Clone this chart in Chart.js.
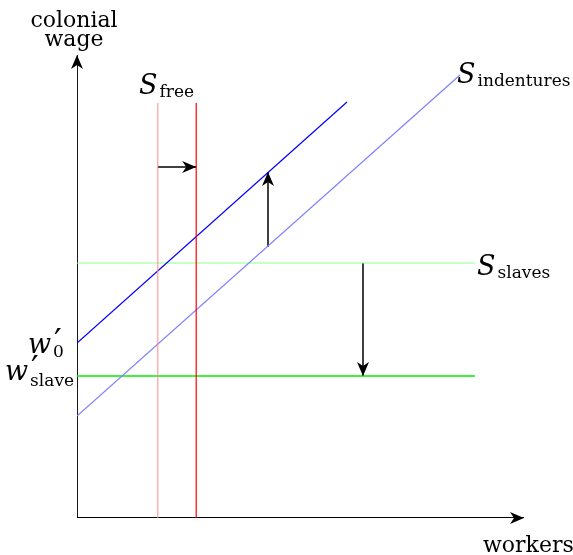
<!DOCTYPE html>
<html>
<head>
<meta charset="utf-8">
<script src="https://cdn.jsdelivr.net/npm/chart.js@4/dist/chart.umd.min.js"></script>
<style>
  body { margin: 0; background: #fff; }
  canvas { display: block; }
</style>
</head>
<body>
<canvas id="myChart" width="573" height="555"></canvas>
<script>
// data (one unit ~ 40px of the original drawing)
const xAxis = [[0, 0], [11.175, 0]];
const yAxis = [[0, 0], [0, 11.575]];
const sFree = [[2.02, 0], [2.02, 10.375]];
const sFreeShifted = [[2.98, 0], [2.98, 10.375]];
const sIndentures = [[0, 2.55], [9.575, 11.075]];
const sIndenturesShifted = [[0, 4.375], [6.75, 10.4]];
const sSlaves = [[0, 6.375], [9.95, 6.375]];
const sSlavesShifted = [[0, 3.55], [9.95, 3.55]];
const shiftRight = [[2.02, 8.775], [2.98, 8.775]];
const shiftUp = [[4.775, 6.775], [4.775, 8.65]];
const shiftDown = [[7.15, 6.375], [7.15, 3.55]];

const toPts = (arr) => arr.map(([x, y]) => ({ x, y }));

function line(points, color, width, arrow) {
  return {
    data: toPts(points),
    borderColor: color,
    borderWidth: width,
    showLine: true,
    pointRadius: 0,
    fill: false,
    arrowHead: !!arrow,
  };
}

// stealth arrow heads at the last point of flagged datasets
const arrowHeads = {
  id: "arrowHeads",
  afterDatasetsDraw(chart) {
    const { ctx } = chart;
    chart.data.datasets.forEach((ds, i) => {
      if (!ds.arrowHead) return;
      const pts = chart.getDatasetMeta(i).data;
      const a = pts[pts.length - 2], b = pts[pts.length - 1];
      const ang = Math.atan2(b.y - a.y, b.x - a.x);
      const len = 14, half = 6, back = 4;
      ctx.save();
      ctx.translate(b.x, b.y);
      ctx.rotate(ang);
      ctx.beginPath();
      ctx.moveTo(0, 0);
      ctx.lineTo(-len, -half);
      ctx.lineTo(-len + back, 0);
      ctx.lineTo(-len, half);
      ctx.closePath();
      ctx.fillStyle = "#000";
      ctx.fill();
      ctx.restore();
    });
  },
};

const SERIF = '"DejaVu Serif", "Liberation Serif", serif';

function mathLabel(ctx, x, y, main, prime, sub, subDrop) {
  ctx.font = "italic 27px " + SERIF;
  ctx.fillText(main, x, y);
  let w = ctx.measureText(main).width;
  if (prime) {
    ctx.font = '34px "DejaVu Sans", sans-serif';
    ctx.fillText("\u2032", x + w + 3, y);
  }
  ctx.font = "17px " + SERIF;
  ctx.fillText(sub, x + w + 2, y + subDrop);
}

// axis titles and curve labels
const labels = {
  id: "labels",
  afterDraw(chart) {
    const { ctx } = chart;
    ctx.save();
    ctx.fillStyle = "#000";
    ctx.textBaseline = "alphabetic";
    ctx.textAlign = "center";
    ctx.font = "22px " + SERIF;
    ctx.fillText("colonial", 74, 27);
    ctx.fillText("wage", 74, 46);
    ctx.textAlign = "left";
    ctx.fillText("workers", 483, 552);
    mathLabel(ctx, 139, 94, "S", false, "free", 3);
    mathLabel(ctx, 457, 83, "S", false, "indentures", 3);
    mathLabel(ctx, 477, 275, "S", false, "slaves", 3);
    mathLabel(ctx, 28, 353, "w", true, "0", 4);
    mathLabel(ctx, 5, 380, "w", true, "slave", 6);
    ctx.restore();
  },
};

const config = {
  type: "scatter",
  data: {
    datasets: [
      line(sFree, "#ff8a8a", 1),
      line(sFreeShifted, "#ff0000", 1.2),
      line(sIndentures, "#8080ff", 1.2),
      line(sIndenturesShifted, "#0000ff", 1.2),
      line(sSlaves, "#90ff90", 1.2),
      line(sSlavesShifted, "#00ee00", 1.4),
      line(xAxis, "#000", 1.8, true),
      line(yAxis, "#000", 1.8, true),
      line(shiftRight, "#000", 1.5, true),
      line(shiftUp, "#000", 1.5, true),
      line(shiftDown, "#000", 1.5, true),
    ],
  },
  options: {
    responsive: false,
    animation: false,
    layout: { padding: { left: 77, top: 55, right: 49, bottom: 37 } },
    scales: {
      x: { type: "linear", min: 0, max: 11.175, display: false },
      y: { type: "linear", min: 0, max: 11.575, display: false },
    },
    plugins: {
      legend: { display: false },
      tooltip: { enabled: false },
    },
  },
  plugins: [arrowHeads, labels],
};

const myChart = new Chart(document.getElementById("myChart"), config);
</script>
</body>
</html>
